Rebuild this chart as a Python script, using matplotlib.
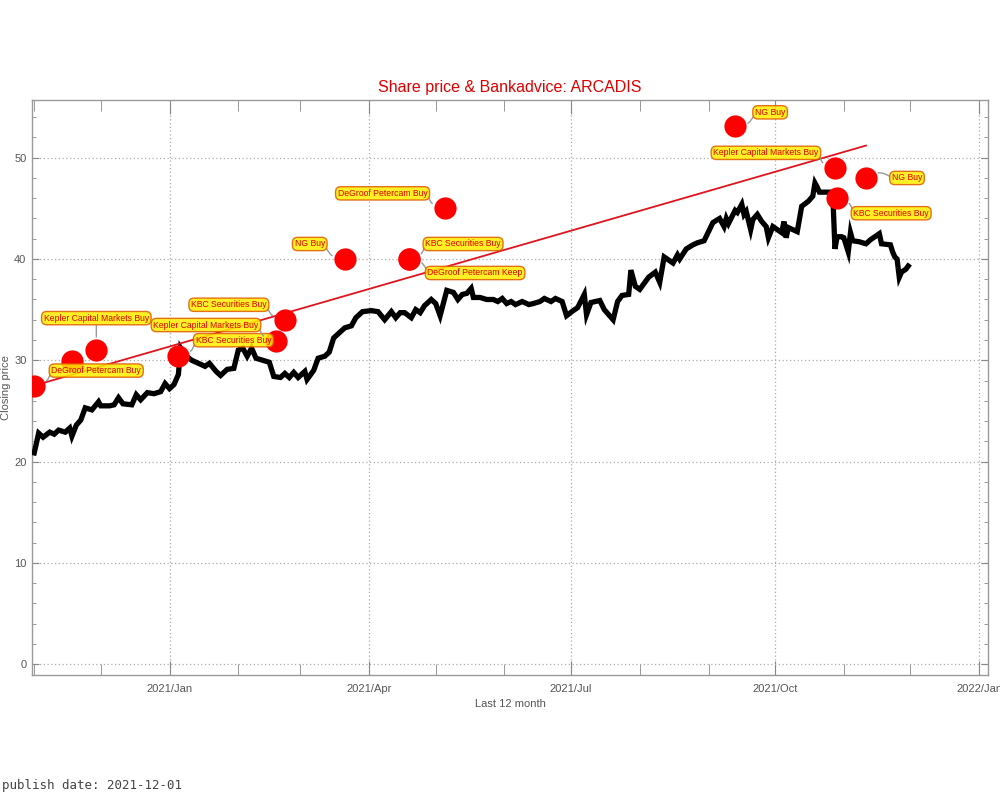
import matplotlib
matplotlib.use("Agg")
import matplotlib.pyplot as plt
import matplotlib.dates as mdates
import numpy as np
import pandas as pd

# ---------------- data ----------------
price_dates = [
    "2020-11-01", "2020-11-03", "2020-11-05", "2020-11-08", "2020-11-10", "2020-11-12",
    "2020-11-15", "2020-11-17", "2020-11-18", "2020-11-20", "2020-11-22", "2020-11-24",
    "2020-11-27", "2020-11-30", "2020-12-01", "2020-12-05", "2020-12-07", "2020-12-09",
    "2020-12-11", "2020-12-15", "2020-12-17", "2020-12-19", "2020-12-22", "2020-12-25",
    "2020-12-28", "2020-12-30", "2021-01-01", "2021-01-03", "2021-01-05", "2021-01-06",
    "2021-01-08", "2021-01-11", "2021-01-14", "2021-01-17", "2021-01-19", "2021-01-22",
    "2021-01-24", "2021-01-27", "2021-01-30", "2021-02-01", "2021-02-03", "2021-02-05",
    "2021-02-07", "2021-02-09", "2021-02-12", "2021-02-15", "2021-02-17", "2021-02-20",
    "2021-02-22", "2021-02-24", "2021-02-26", "2021-02-28", "2021-03-03", "2021-03-04",
    "2021-03-07", "2021-03-09", "2021-03-12", "2021-03-14", "2021-03-16", "2021-03-18",
    "2021-03-21", "2021-03-24", "2021-03-26", "2021-03-29", "2021-04-02", "2021-04-05",
    "2021-04-08", "2021-04-11", "2021-04-13", "2021-04-15", "2021-04-17", "2021-04-20",
    "2021-04-22", "2021-04-24", "2021-04-26", "2021-04-29", "2021-05-01", "2021-05-03",
    "2021-05-06", "2021-05-09", "2021-05-11", "2021-05-13", "2021-05-15", "2021-05-17",
    "2021-05-18", "2021-05-21", "2021-05-24", "2021-05-27", "2021-05-29", "2021-05-31",
    "2021-06-02", "2021-06-04", "2021-06-06", "2021-06-09", "2021-06-12", "2021-06-14",
    "2021-06-17", "2021-06-19", "2021-06-22", "2021-06-24", "2021-06-27", "2021-06-29",
    "2021-07-02", "2021-07-04", "2021-07-07", "2021-07-08", "2021-07-10", "2021-07-12",
    "2021-07-14", "2021-07-16", "2021-07-20", "2021-07-22", "2021-07-24", "2021-07-27",
    "2021-07-28", "2021-07-30", "2021-08-01", "2021-08-05", "2021-08-08", "2021-08-10",
    "2021-08-12", "2021-08-16", "2021-08-18", "2021-08-19", "2021-08-22", "2021-08-25",
    "2021-08-27", "2021-08-30", "2021-09-01", "2021-09-03", "2021-09-06", "2021-09-08",
    "2021-09-09", "2021-09-10", "2021-09-13", "2021-09-14", "2021-09-16", "2021-09-17",
    "2021-09-18", "2021-09-20", "2021-09-21", "2021-09-23", "2021-09-25", "2021-09-27",
    "2021-09-28", "2021-09-30", "2021-10-02", "2021-10-04", "2021-10-05", "2021-10-06",
    "2021-10-07", "2021-10-09", "2021-10-11", "2021-10-13", "2021-10-16", "2021-10-18",
    "2021-10-19", "2021-10-20", "2021-10-21", "2021-10-25", "2021-10-26", "2021-10-27",
    "2021-10-28", "2021-10-29", "2021-10-31", "2021-11-01", "2021-11-03", "2021-11-04",
    "2021-11-05", "2021-11-08", "2021-11-11", "2021-11-13", "2021-11-17", "2021-11-18",
    "2021-11-22", "2021-11-23", "2021-11-24", "2021-11-25", "2021-11-26", "2021-11-27",
    "2021-11-29", "2021-11-30",
]
price_values = [
    20.85, 22.8, 22.4, 22.9, 22.7, 23.1,
    22.9, 23.3, 22.5, 23.6, 24.1, 25.3,
    25.1, 25.9, 25.5, 25.5, 25.6, 26.3,
    25.7, 25.6, 26.6, 26.1, 26.8, 26.7,
    26.9, 27.7, 27.2, 27.6, 28.6, 31.2,
    30.5, 30.0, 29.7, 29.4, 29.7, 28.9,
    28.5, 29.1, 29.2, 31.0, 31.2, 30.4,
    31.2, 30.2, 30.0, 29.8, 28.4, 28.3,
    28.7, 28.3, 28.8, 28.3, 28.9, 28.1,
    29.0, 30.2, 30.4, 30.8, 32.2, 32.6,
    33.2, 33.4, 34.2, 34.8, 34.9, 34.8,
    34.0, 34.8, 34.2, 34.7, 34.7, 34.2,
    35.0, 34.7, 35.4, 36.0, 35.6, 34.4,
    36.9, 36.7, 36.0, 36.5, 36.6, 37.1,
    36.2, 36.2, 36.0, 36.0, 35.8, 36.1,
    35.6, 35.8, 35.5, 35.8, 35.5, 35.6,
    35.8, 36.1, 35.8, 36.1, 35.8, 34.4,
    34.9, 35.2, 36.5, 34.5, 35.7, 35.8,
    35.9, 35.0, 34.0, 35.8, 36.4, 36.5,
    38.9, 37.3, 37.0, 38.2, 38.7, 37.7,
    40.2, 39.6, 40.4, 40.0, 41.0, 41.4,
    41.6, 41.8, 42.7, 43.6, 44.0, 43.2,
    44.0, 43.5, 44.8, 44.6, 45.4, 44.4,
    44.7, 42.9, 43.9, 44.4, 43.7, 43.2,
    42.1, 43.2, 42.9, 42.6, 43.7, 42.1,
    43.1, 42.9, 42.7, 45.2, 45.7, 46.2,
    47.5, 47.1, 46.6, 46.6, 46.6, 46.5,
    41.0, 42.2, 42.2, 42.1, 40.7, 42.6,
    41.8, 41.7, 41.5, 41.9, 42.5, 41.5,
    41.4, 40.7, 40.2, 40.0, 38.2, 38.7,
    39.0, 39.3,
]

advice_dates = [
    "2020-11-01", "2020-11-18", "2020-11-29", "2021-01-05", "2021-02-18", "2021-02-22",
    "2021-03-21", "2021-04-19", "2021-04-19", "2021-05-05", "2021-09-13", "2021-10-28",
    "2021-10-29", "2021-11-11",
]
advice_prices = [27.5, 29.9, 31.0, 30.4, 31.9, 34.0, 40.0, 40.0, 40.0, 45.0, 53.1, 49.0, 46.0, 48.0]
advice_labels = [
    "DeGroof Petercam Buy", "", "Kepler Capital Markets Buy", "KBC Securities Buy",
    "Kepler Capital Markets Buy", "KBC Securities Buy", "NG Buy", "KBC Securities Buy",
    "DeGroof Petercam Keep", "DeGroof Petercam Buy", "NG Buy", "Kepler Capital Markets Buy",
    "KBC Securities Buy", "NG Buy",
]

trend_dates = ["2020-11-01", "2021-11-11"]
trend_values = [27.5, 51.2]

y_ticks = [0, 10, 20, 30, 40, 50]
x_tick_dates = ["2021-01-01", "2021-04-01", "2021-07-01", "2021-10-01", "2022-01-01"]
x_tick_labels = ["2021/Jan", "2021/Apr", "2021/Jul", "2021/Oct", "2022/Jan"]

# label offsets (in pixels, dx, dy) of each label centre from its dot -- layout only
label_offsets_px = [
    (62, 15), (0, 0), (0, 32), (55, 16), (-70, 16), (-56, 15), (-35, 15),
    (54, 15), (66, -14), (-62, 15), (35, 14), (-69, 15), (54, -15), (41, 0),
]

# ---------------- plot ----------------
plt.rcParams['font.family'] = ['Liberation Sans', 'DejaVu Sans']

fig = plt.figure(figsize=(10, 8), dpi=100)
ax = fig.add_axes([0.032, 0.156, 0.956, 0.719])

pdates = pd.to_datetime(price_dates)
adates = pd.to_datetime(advice_dates)
tdates = pd.to_datetime(trend_dates)

ax.plot(pdates, price_values, color='black', lw=3.8, solid_joinstyle='miter', zorder=3)
ax.plot(tdates, trend_values, color='#e0141e', lw=1.3, zorder=4)
ax.plot(adates, advice_prices, 'o', color='#ff0000', markersize=16, markeredgewidth=0, zorder=5)

for d, p, lab, (dx, dy) in zip(adates, advice_prices, advice_labels, label_offsets_px):
    if not lab:
        continue
    if dx > 0:
        relpos = (0.0, 0.5)
        rad = -0.4 if dy > 0 else 0.4
    elif dx < 0:
        relpos = (1.0, 0.5)
        rad = 0.4 if dy > 0 else -0.4
    else:
        relpos = (0.5, 0.0)
        rad = 0.0
    ax.annotate(
        lab, xy=(d, p), xytext=(dx * 0.72, dy * 0.72), textcoords='offset points',
        ha='center', va='center', fontsize=6.2, color='#e00000',
        bbox=dict(boxstyle='round,pad=0.25,rounding_size=0.6', fc='#ffee00', ec='#e05a00',
                  lw=1.0, alpha=0.85),
        arrowprops=dict(arrowstyle='-', color='#999999', lw=1.0, shrinkA=2, shrinkB=9.5,
                        relpos=relpos, patchA=None,
                        connectionstyle=f'arc3,rad={rad}'),
        zorder=6,
    )

ax.set_xlim(pd.Timestamp("2020-10-31"), pd.Timestamp("2022-01-05"))
ax.set_ylim(-1.1, 55.7)

ax.set_yticks(y_ticks)
ax.yaxis.set_minor_locator(matplotlib.ticker.MultipleLocator(2))
ax.set_xticks(pd.to_datetime(x_tick_dates))
ax.set_xticklabels(x_tick_labels)
ax.xaxis.set_minor_locator(mdates.MonthLocator())

ax.tick_params(axis='both', which='both', direction='in', colors='#888888',
               labelcolor='#555555', labelsize=8, top=True, right=True)
ax.tick_params(axis='x', which='major', length=10, pad=6)
ax.tick_params(axis='x', which='minor', length=8)
ax.tick_params(axis='y', which='major', length=5, pad=4)
ax.tick_params(axis='y', which='minor', length=3)

ax.grid(True, which='major', color='#aaaaaa', linestyle=(0, (1, 2)), lw=0.9)
for s in ax.spines.values():
    s.set_color('#999999')
    s.set_linewidth(1.0)

ax.set_title("Share price & Bankadvice: ARCADIS", color='#e00000', fontsize=11.5, pad=6)
ax.set_xlabel("Last 12 month", color='#555555', fontsize=8, labelpad=4)
ax.set_ylabel("Closing price", color='#555555', fontsize=8, labelpad=2)

fig.text(0.002, 0.01, "publish date: 2021-12-01", family='DejaVu Sans Mono', fontsize=9,
         color='#444444', ha='left', va='bottom')

fig.savefig("out.png", dpi=100)
